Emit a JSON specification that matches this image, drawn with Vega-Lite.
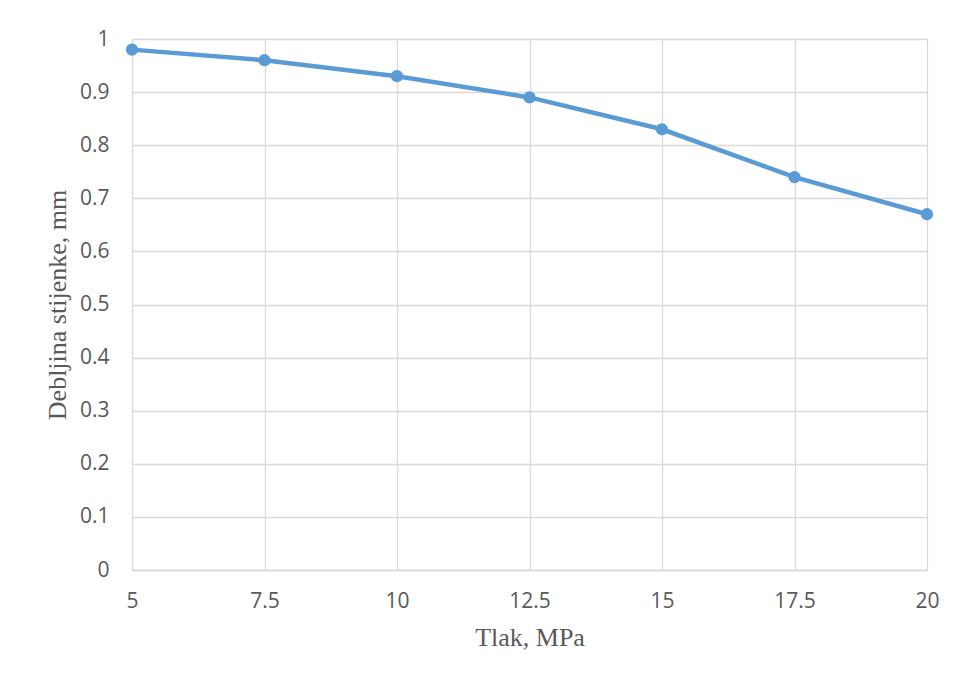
{
  "$schema": "https://vega.github.io/schema/vega-lite/v6.json",
  "width": 795,
  "height": 531,
  "autosize": {"type": "none"},
  "padding": {"left": 132, "top": 39, "right": 29, "bottom": 109},
  "background": "white",
  "config": {"view": {"stroke": null}},
  "data": {"values": [
    {"p": 5, "t": 0.98},
    {"p": 7.5, "t": 0.96},
    {"p": 10, "t": 0.93},
    {"p": 12.5, "t": 0.89},
    {"p": 15, "t": 0.83},
    {"p": 17.5, "t": 0.74},
    {"p": 20, "t": 0.67}
  ]},
  "encoding": {
    "x": {"field": "p", "type": "quantitative",
      "scale": {"domain": [5, 20], "nice": false, "zero": false},
      "axis": {"values": [5, 7.5, 10, 12.5, 15, 17.5, 20], "format": ".3~g", "title": "Tlak, MPa",
        "grid": true, "gridColor": "#d9d9d9", "gridWidth": 1.3, "ticks": false, "domain": true, "domainColor": "#d9d9d9", "domainWidth": 1.3,
        "labelFlush": false, "labelOverlap": false,
        "labelFont": "Open Sans", "labelFontSize": 21, "labelColor": "#595959", "labelPadding": 20,
        "titleFont": "Liberation Serif", "titleFontSize": 26, "titleFontWeight": "normal", "titleColor": "#595959", "titlePadding": 13}},
    "y": {"field": "t", "type": "quantitative",
      "scale": {"domain": [0, 1], "nice": false},
      "axis": {"values": [0, 0.1, 0.2, 0.3, 0.4, 0.5, 0.6, 0.7, 0.8, 0.9, 1], "format": ".3~g", "title": "Debljina stijenke, mm",
        "grid": true, "gridColor": "#d9d9d9", "gridWidth": 1.3, "ticks": false, "domain": false,
        "labelFlush": false, "labelOverlap": false,
        "labelFont": "Open Sans", "labelFontSize": 21, "labelColor": "#595959", "labelPadding": 23,
        "titleFont": "Liberation Serif", "titleFontSize": 26, "titleFontWeight": "normal", "titleColor": "#595959", "titlePadding": 9}}
  },
  "layer": [
    {"mark": {"type": "line", "color": "#5b9bd5", "strokeWidth": 4.5}},
    {"mark": {"type": "point", "filled": true, "color": "#5b9bd5", "opacity": 1, "size": 150}}
  ]
}
